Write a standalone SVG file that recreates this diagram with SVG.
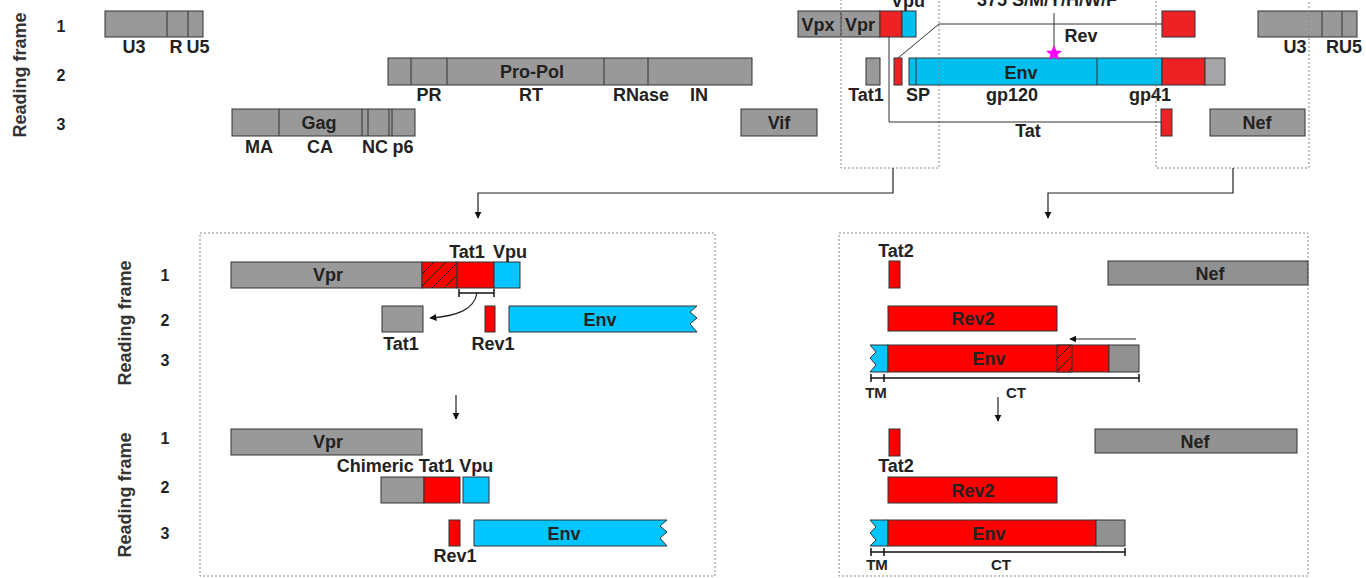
<svg xmlns="http://www.w3.org/2000/svg" width="1366" height="578" viewBox="0 0 1366 578">
<defs>
<style>
text{font-family:"Liberation Sans",Arial,sans-serif;font-weight:bold;fill:#222;}
.l{font-size:18px;text-anchor:middle;}
.n{font-size:16px;text-anchor:middle;}
.s{font-size:15px;text-anchor:middle;}
.rf{font-size:18px;text-anchor:middle;fill:#333;}
.g{fill:#999;stroke:#333;stroke-width:1;}
.g2{fill:#919191;stroke:#333;stroke-width:1;}
.r{fill:#ED2224;stroke:#333;stroke-width:1;}
.r2{fill:#FF0000;stroke:#333;stroke-width:1;}
.b{fill:#00C0F0;stroke:#333;stroke-width:1;}
.b2{fill:#00C5FF;stroke:#333;stroke-width:1;}
.dv{stroke:#333;stroke-width:1;fill:none;}
.dot{fill:none;stroke:#888;stroke-width:1;stroke-dasharray:2,2;}
.ln{fill:none;stroke:#222;stroke-width:1.2;}
.br{fill:none;stroke:#111;stroke-width:1.5;}
</style>
<pattern id="hatch" patternUnits="userSpaceOnUse" width="12" height="12">
<rect width="12" height="12" fill="#FF0000"/>
<path d="M-3,15 L15,-3 M-3,3 L3,-3 M9,15 L15,9" stroke="#111" stroke-width="1"/>
</pattern>
<marker id="ah" viewBox="0 0 10 10" refX="9" refY="5" markerWidth="6" markerHeight="6" orient="auto">
<path d="M0,0 L10,5 L0,10 z" fill="#111"/>
</marker>
</defs>

<g id="labels-top">
<text class="rf" transform="translate(26,75) rotate(-90)">Reading frame</text>
<text class="n" x="61" y="32">1</text>
<text class="n" x="61" y="81">2</text>
<text class="n" x="61" y="130">3</text>
</g>

<g id="ltr-left">
<rect class="g" x="105" y="11" width="98" height="26"/>
<path class="dv" d="M167,11V37M188,11V37"/>
<text class="l" x="134" y="53">U3</text>
<text class="l" x="176" y="53">R</text>
<text class="l" x="198" y="53">U5</text>
</g>

<g id="propol">
<rect class="g" x="388" y="58" width="364" height="27"/>
<path class="dv" d="M411,58V85M447,58V85M604,58V85M648,58V85"/>
<text class="l" x="532" y="78">Pro-Pol</text>
<text class="l" x="429" y="101">PR</text>
<text class="l" x="531" y="101">RT</text>
<text class="l" x="641" y="101">RNase</text>
<text class="l" x="699" y="101">IN</text>
</g>

<g id="gag">
<rect class="g" x="232" y="109" width="183" height="27"/>
<path class="dv" d="M279,109V136M362,109V136M368,109V136M389,109V136M392,109V136"/>
<text class="l" x="319" y="129">Gag</text>
<text class="l" x="259" y="153">MA</text>
<text class="l" x="320" y="153">CA</text>
<text class="l" x="375" y="153">NC</text>
<text class="l" x="403" y="153">p6</text>
</g>

<g id="vif">
<rect class="g" x="741" y="109" width="76" height="27"/>
<text class="l" x="779" y="129">Vif</text>
</g>

<g id="vpx-vpr-vpu">
<rect class="g" x="798" y="11" width="82" height="26"/>
<path class="dv" d="M841,11V37"/>
<rect class="r" x="880" y="11" width="22" height="26"/>
<rect class="b" x="902" y="11" width="14" height="26"/>
<text class="l" x="818" y="31">Vpx</text>
<text class="l" x="860" y="31">Vpr</text>
<text class="l" x="908" y="7">Vpu</text>
</g>

<g id="env-top">
<rect class="g" x="866" y="58" width="14" height="27"/>
<text class="l" x="866" y="101">Tat1</text>
<rect class="r" x="894" y="58" width="8" height="27"/>
<rect class="b" x="909" y="58" width="253" height="27"/>
<path class="dv" d="M916,58V85M1097,58V85"/>
<rect class="r" x="1162" y="58" width="43" height="27"/>
<rect fill="#a6a6a8" stroke="#333" x="1205" y="58" width="20" height="27"/>
<text class="l" x="1021" y="79">Env</text>
<text class="l" x="918" y="101">SP</text>
<text class="l" x="1012" y="101">gp120</text>
<text class="l" x="1150" y="101">gp41</text>
</g>

<g id="rev-top">
<rect class="r" x="1162" y="11" width="33" height="26"/>
<text class="l" x="1081" y="42">Rev</text>
<text class="l" x="1047" y="6">375 S/M/Y/H/W/F</text>
<path class="dv" d="M1054,13V48"/>
<path d="M1054,45 L1056.3,50.5 L1062,50.9 L1057.6,54.5 L1059.1,60 L1054,57 L1048.9,60 L1050.4,54.5 L1046,50.9 L1051.7,50.5 Z" fill="#FF00FF"/>
</g>

<g id="tat-top">
<rect class="r" x="1161" y="109" width="11" height="27"/>
<text class="l" x="1028" y="137">Tat</text>
</g>

<g id="nef-top">
<rect class="g" x="1210" y="109" width="95" height="27"/>
<text class="l" x="1257" y="129">Nef</text>
</g>

<g id="ltr-right">
<rect class="g" x="1258" y="11" width="99" height="26"/>
<path class="dv" d="M1322,11V37M1342,11V37"/>
<text class="l" x="1295" y="53">U3</text>
<text class="l" x="1344" y="53">RU5</text>
</g>

<g id="dotted-regions">
<rect class="dot" x="841" y="-5" width="98" height="173"/>
<rect class="dot" x="1156" y="-5" width="153" height="173"/>
</g>

<g id="connectors">
<path class="dv" d="M898,58 L939,24 L1162,24"/>
<path class="dv" d="M889,37 V122 H1161"/>
<path class="ln" d="M893,168 V193 H478 V218" marker-end="url(#ah)"/>
<path class="ln" d="M1233,168 V193 H1048 V218" marker-end="url(#ah)"/>
<path class="ln" d="M477,293 C474,310 457,316 430,318" marker-end="url(#ah)"/>
<path class="ln" d="M456,395 V419" marker-end="url(#ah)"/>
<path class="ln" d="M1136,339 H1070" marker-end="url(#ah)"/>
<path class="ln" d="M998,397 V421" marker-end="url(#ah)"/>
</g>

<g id="panel-left">
<rect class="dot" x="200" y="233" width="515" height="343"/>
<text class="rf" transform="translate(131,323) rotate(-90)">Reading frame</text>
<text class="n" x="165" y="281">1</text>
<text class="n" x="165" y="326">2</text>
<text class="n" x="165" y="366">3</text>
<text class="rf" transform="translate(131,495) rotate(-90)">Reading frame</text>
<text class="n" x="165" y="444">1</text>
<text class="n" x="165" y="493">2</text>
<text class="n" x="165" y="539">3</text>
</g>

<g id="vpr-a">
<rect class="g" x="231" y="262" width="191" height="26"/>
<text class="l" x="328" y="281">Vpr</text>
<rect fill="url(#hatch)" stroke="#333" x="422" y="262" width="35" height="26"/>
<rect class="r2" x="457" y="262" width="37" height="26"/>
<rect class="b2" x="494" y="262" width="26" height="26"/>
<text class="l" x="467" y="258">Tat1</text>
<text class="l" x="510" y="258">Vpu</text>
<path class="br" d="M459,293H494M459,289V297M494,289V297"/>
</g>

<g id="tat1-a">
<rect class="g" x="382" y="306" width="41" height="26"/>
<text class="l" x="401" y="350">Tat1</text>
</g>
<g id="rev1-a">
<rect class="r2" x="485" y="306" width="10" height="26"/>
<text class="l" x="493" y="350">Rev1</text>
</g>
<g id="env-a">
<path class="b2" d="M509,306 H697 L690,312 L697,318 L690,324 L697,332 H509 Z"/>
<text class="l" x="600" y="326">Env</text>
</g>

<g id="vpr-b">
<rect class="g" x="231" y="429" width="191" height="26"/>
<text class="l" x="328" y="448">Vpr</text>
</g>
<g id="chimeric">
<text class="l" x="415" y="472">Chimeric Tat1 Vpu</text>
<rect class="g" x="381" y="477" width="43" height="26"/>
<rect class="r2" x="424" y="477" width="36" height="26"/>
<rect class="b2" x="463" y="477" width="26" height="26"/>
</g>
<g id="rev1-b">
<rect class="r2" x="449" y="520" width="11" height="26"/>
<text class="l" x="455" y="562">Rev1</text>
</g>
<g id="env-b">
<path class="b2" d="M474,520 H667 L660,526 L667,532 L660,538 L667,546 H474 Z"/>
<text class="l" x="564" y="540">Env</text>
</g>

<g id="panel-right">
<rect class="dot" x="839" y="233" width="469" height="343"/>
</g>

<g id="tat2-a">
<text class="l" x="896" y="257">Tat2</text>
<rect class="r2" x="889" y="261" width="11" height="27"/>
</g>
<g id="nef-a">
<rect class="g2" x="1108" y="261" width="200" height="24"/>
<text class="l" x="1210" y="280">Nef</text>
</g>
<g id="rev2-a">
<rect class="r2" x="888" y="306" width="169" height="25"/>
<text class="l" x="973" y="325">Rev2</text>
</g>
<g id="env-c">
<path class="b2" d="M870,345 H888 V372 H870 L876,365 L870,358 L876,352 Z"/>
<rect class="r2" x="888" y="345" width="221" height="27"/>
<rect fill="url(#hatch)" stroke="#333" x="1057" y="345" width="15" height="27"/>
<rect class="g2" x="1109" y="345" width="30" height="27"/>
<text class="l" x="989" y="365">Env</text>
<path class="br" d="M871,378H1139M871,374V382M884,374V382M1139,374V382"/>
<text class="s" x="876" y="398">TM</text>
<text class="s" x="1016" y="398">CT</text>
</g>

<g id="tat2-b">
<rect class="r2" x="889" y="429" width="11" height="27"/>
<text class="l" x="896" y="472">Tat2</text>
</g>
<g id="nef-b">
<rect class="g2" x="1095" y="429" width="202" height="24"/>
<text class="l" x="1195" y="448">Nef</text>
</g>
<g id="rev2-b">
<rect class="r2" x="888" y="477" width="169" height="26"/>
<text class="l" x="973" y="497">Rev2</text>
</g>
<g id="env-d">
<path class="b2" d="M870,520 H888 V546 H870 L876,540 L870,533 L876,527 Z"/>
<rect class="r2" x="888" y="520" width="208" height="26"/>
<rect class="g2" x="1096" y="520" width="29" height="26"/>
<text class="l" x="989" y="540">Env</text>
<path class="br" d="M871,552H1125M871,548V556M884,548V556M1125,548V556"/>
<text class="s" x="877" y="570">TM</text>
<text class="s" x="1001" y="570">CT</text>
</g>
</svg>
